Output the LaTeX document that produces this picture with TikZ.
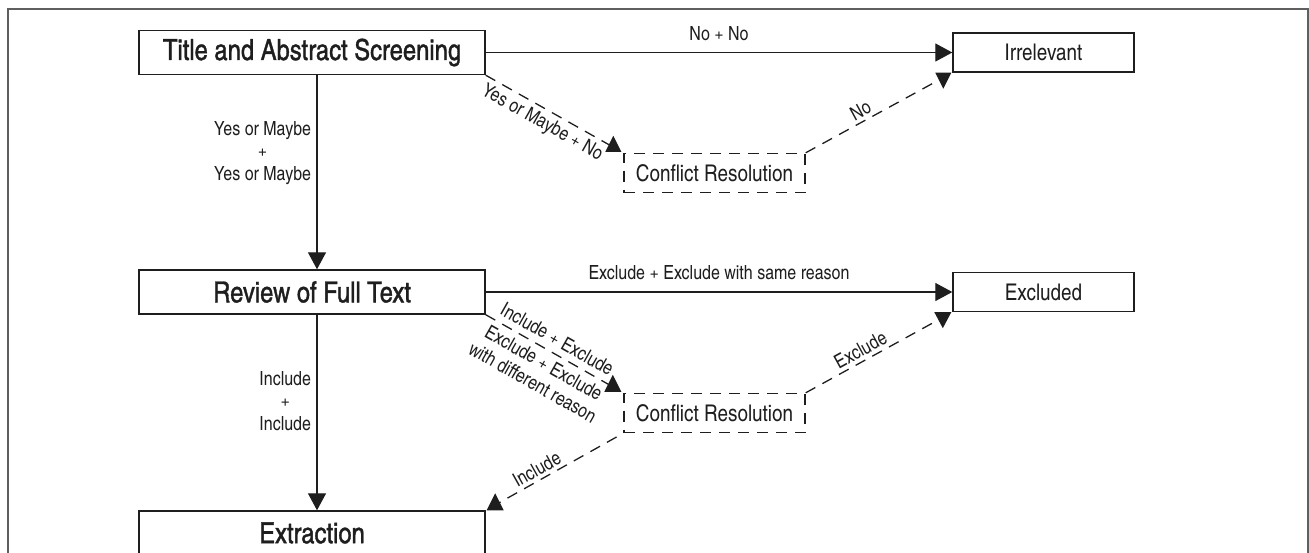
\documentclass[tikz,border=0pt]{standalone}
\usepackage{fontspec}
\setmainfont{texgyreheroscn-regular.otf}
\newfontfamily\stagefont{texgyreheroscn-regular.otf}[FakeBold=1.2]
\usetikzlibrary{arrows.meta}
\usepackage{xcolor}
\definecolor{inkgray}{RGB}{30,30,30}
\definecolor{framegray}{RGB}{95,95,95}
\tikzset{stagenode/.style={rectangle, draw=inkgray, line width=1.4pt, minimum width=346pt, minimum height=44pt, font=\stagefont\fontsize{29}{33}\selectfont},
endnode/.style={rectangle, draw=inkgray, line width=1.4pt, minimum width=181pt, minimum height=39pt, font=\fontsize{23}{27}\selectfont},
conflictnode/.style={endnode, dash pattern=on 11pt off 8pt}}

\begin{document}
\begin{tikzpicture}[
        color=inkgray, text=inkgray,
        solidarrow/.style={-{Triangle[length=17pt, width=18pt]}, line width=1.3pt},
        dashedline/.style={line width=1.3pt, dash pattern=on 11pt off 8pt},
        edgelabel/.style={font=\fontsize{19.5}{22.5}\selectfont, align=center}
    ]
        \useasboundingbox (0pt, 0pt) rectangle (1309pt, -552pt);
        % Frame
        \draw[framegray, line width=1.8pt] (8pt, -560pt) -- (8pt, -9pt) -- (1308pt, -9pt) -- (1308pt, -560pt);
        % Stages
        \node[stagenode] (title) at (312pt, -52.5pt) {Title and Abstract Screening};
        \node[stagenode] (review) at (312pt, -292pt) {Review of Full Text};
        \node[stagenode] (extraction) at (312pt, -533pt) {Extraction};
        % Outcomes
        \node[endnode] (irrelevant) at (1043.5pt, -52.5pt) {Irrelevant};
        \node[endnode] (excluded) at (1043.5pt, -292pt) {Excluded};
        \node[conflictnode] (conflictA) at (714.5pt, -173pt) {Conflict Resolution};
        \node[conflictnode] (conflictB) at (714.5pt, -413pt) {Conflict Resolution};
        % Agreement
        \draw[solidarrow] ([xshift=5pt]title.south) -- ([xshift=5pt]review.north) node[edgelabel, left=2pt, pos=0.4] {Yes or Maybe\\+\\Yes or Maybe};
        \draw[solidarrow] ([xshift=5pt]review.south) -- ([xshift=5pt]extraction.north) node[edgelabel, left=2pt, pos=0.44] {Include\\+\\Include};
        \draw[solidarrow] (title) -- (irrelevant) node[edgelabel, midway, above=8pt] {No + No};
        \draw[solidarrow] (review) -- (excluded) node[edgelabel, midway, above=8pt] {Exclude + Exclude with same reason};
        % Disagreement
        \draw[dashedline, shorten >=10pt] (title.south east) -- (conflictA.north west) node[edgelabel, sloped, pos=0.46, below=1pt] {Yes or Maybe + No};
        \draw[dashedline, shorten >=10pt] (conflictA.north east) -- (irrelevant.south west) node[edgelabel, sloped, pos=0.41, above] {No};
        \draw[dashedline, shorten >=10pt] (review.south east) -- (conflictB.north west)
            node[edgelabel, sloped, pos=0.47, above=3pt] {Include + Exclude}
            node[edgelabel, sloped, pos=0.47, below=2pt] {Exclude + Exclude\\with different reason};
        \draw[dashedline, shorten >=10pt] (conflictB.north east) -- (excluded.south west) node[edgelabel, sloped, pos=0.41, above] {Exclude};
        \draw[dashedline, shorten <=6pt] (extraction.north east) -- (conflictB.south west) node[edgelabel, sloped, pos=0.41, above] {Include};
        % Heads
        \fill ([xshift=-18pt, yshift=1pt]conflictA.north west) -- ++(16pt, 0pt) -- ++(-8pt, 16pt) -- cycle;
        \fill ([xshift=-17pt]irrelevant.south west) -- ++(16pt, 0pt) -- ++(-8pt, -16pt) -- cycle;
        \fill ([xshift=-19pt, yshift=1pt]conflictB.north west) -- ++(17pt, 0pt) -- ++(-8.5pt, 17pt) -- cycle;
        \fill ([xshift=-18pt]excluded.south west) -- ++(17pt, 0pt) -- ++(-8.5pt, -16pt) -- cycle;
        \fill ([xshift=1pt]extraction.north east) -- ++(17pt, 0pt) -- ++(-8.5pt, 17pt) -- cycle;
    \end{tikzpicture}
\end{document}
